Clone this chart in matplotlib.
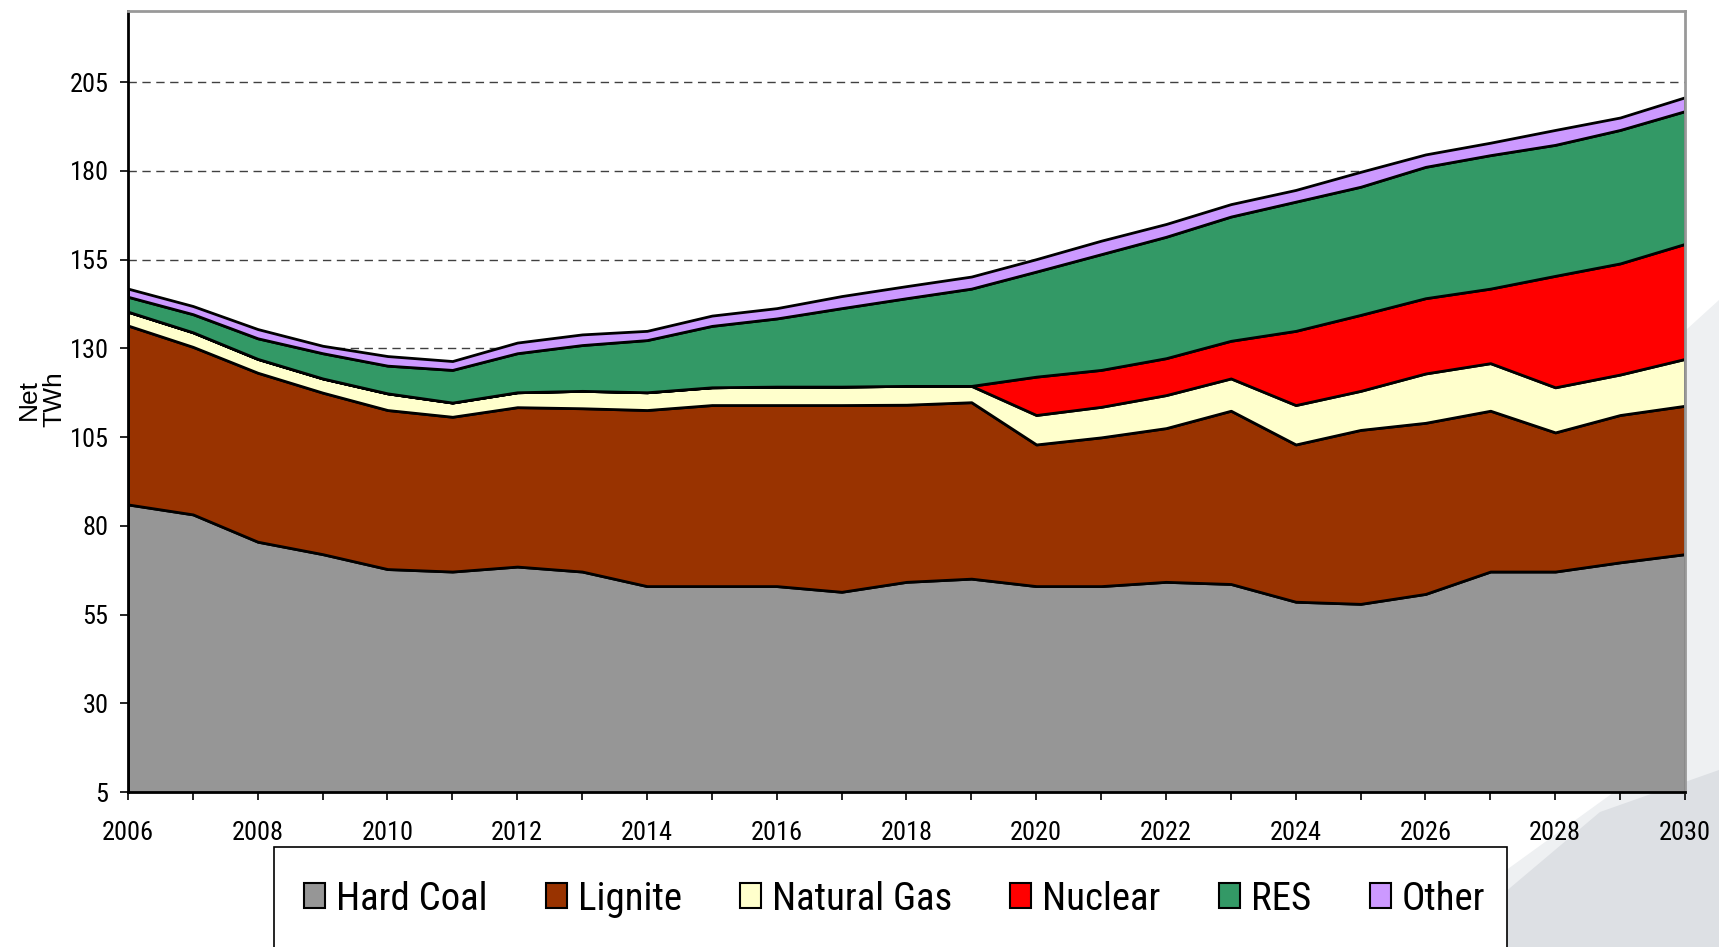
import matplotlib
matplotlib.use("Agg")
import matplotlib.pyplot as plt
from matplotlib.patches import Rectangle, Patch, Polygon

plt.rcParams['font.family'] = ['Roboto Condensed', 'Liberation Sans', 'DejaVu Sans']

years = list(range(2006, 2031))
hard_coal = [86.0, 83.2, 75.5, 72.0, 67.8, 67.1, 68.5, 67.1, 63.0, 63.0, 63.0, 61.4, 64.2,
             65.1, 63.0, 63.0, 64.2, 63.6, 58.6, 58.0, 60.8, 67.1, 67.1, 69.7, 72.0]
lignite = [50.4, 47.2, 47.6, 45.5, 44.8, 43.6, 44.9, 46.0, 49.6, 51.0, 51.0, 52.6, 49.9,
           49.7, 39.9, 41.9, 43.3, 48.8, 44.3, 49.0, 48.2, 45.3, 39.2, 41.5, 41.8]
natural_gas = [3.9, 4.1, 3.9, 4.0, 4.7, 4.0, 4.2, 4.9, 5.0, 5.0, 5.2, 5.2, 5.3,
               4.6, 8.3, 8.6, 9.3, 9.1, 11.1, 11.0, 13.9, 13.4, 12.7, 11.4, 13.2]
nuclear = [0, 0, 0, 0, 0, 0, 0, 0, 0, 0, 0, 0, 0,
           0, 10.8, 10.4, 10.4, 10.6, 20.9, 21.4, 21.2, 21.0, 31.4, 31.3, 32.4]
res = [4.2, 5.1, 5.8, 7.1, 7.8, 9.2, 11.0, 12.9, 14.7, 17.3, 19.2, 22.1, 24.7,
       27.4, 29.6, 32.6, 34.2, 35.0, 36.4, 36.1, 37.0, 37.6, 36.9, 37.6, 37.4]
other = [2.3, 2.3, 2.6, 2.1, 2.7, 2.5, 3.0, 3.0, 2.6, 2.9, 2.9, 3.4, 3.4,
         3.4, 3.5, 3.8, 3.6, 3.5, 3.3, 4.2, 3.5, 3.5, 4.2, 3.5, 3.9]

labels = ['Hard Coal', 'Lignite', 'Natural Gas', 'Nuclear', 'RES', 'Other']
colors = ['#969696', '#993300', '#FFFFCC', '#FF0000', '#339966', '#CC99FF']
yticks = [5, 30, 55, 80, 105, 130, 155, 180, 205]

W, H = 1719, 947
fig = plt.figure(figsize=(W / 100, H / 100), dpi=100)


def fig_xy(pts):
    return [(x / W, 1 - y / H) for x, y in pts]


# decorative slide background (bottom-right)
fig.patches.append(Polygon(fig_xy([(1686, 330), (1719, 300), (1719, 947), (1400, 947), (1686, 740)]),
                           closed=True, transform=fig.transFigure, facecolor='#EEF0F2',
                           edgecolor='none', zorder=-2))
fig.patches.append(Polygon(fig_xy([(1440, 947), (1600, 812), (1719, 770), (1719, 947)]),
                           closed=True, transform=fig.transFigure, facecolor='#DDE0E4',
                           edgecolor='none', zorder=-1))

ax = fig.add_axes([128 / W, (H - 792) / H, (1685 - 128) / W, (792 - 11) / H])

ax.stackplot(years, hard_coal, lignite, natural_gas, nuclear, res, other,
             colors=colors, edgecolor='black', linewidth=2, zorder=2)

ax.set_xlim(2006, 2030)
ax.set_ylim(5, 225)
ax.set_yticks(yticks)
ax.set_xticks(years)
ax.set_xticklabels([str(y) if y % 2 == 0 else '' for y in years])
ax.tick_params(axis='both', direction='out', labelsize=19, length=6, width=1.2, color='black')
ax.tick_params(axis='x', pad=15)
ax.tick_params(axis='y', pad=8)
ax.yaxis.grid(True, linestyle=(0, (6, 4)), color='#404040', linewidth=1)
ax.set_axisbelow(True)

for side in ['top', 'right']:
    ax.spines[side].set_color('#999999')
    ax.spines[side].set_linewidth(2)
for side in ['left', 'bottom']:
    ax.spines[side].set_color('black')
    ax.spines[side].set_linewidth(2)

fig.text(41.5 / W, 1 - 399 / H, 'Net\nTWh', rotation=90, fontsize=19,
         family=['Liberation Sans', 'DejaVu Sans'], linespacing=1.05,
         ha='center', va='center', multialignment='center')

# legend box
fig.patches.append(Rectangle((274 / W, -0.01), (1507 - 274) / W, (H - 847) / H + 0.01,
                             transform=fig.transFigure, facecolor='white',
                             edgecolor='black', linewidth=1.2, zorder=0))
handles = [Patch(facecolor=c, edgecolor='black', linewidth=1.5) for c in colors]
fig.legend(handles, labels, loc='center', bbox_to_anchor=(894.5 / W, 1 - 899 / H),
           ncol=6, frameon=False, fontsize=28, handlelength=0.54, handleheight=0.62,
           handletextpad=0.28, columnspacing=1.5)

fig.savefig('out.png', dpi=100)
